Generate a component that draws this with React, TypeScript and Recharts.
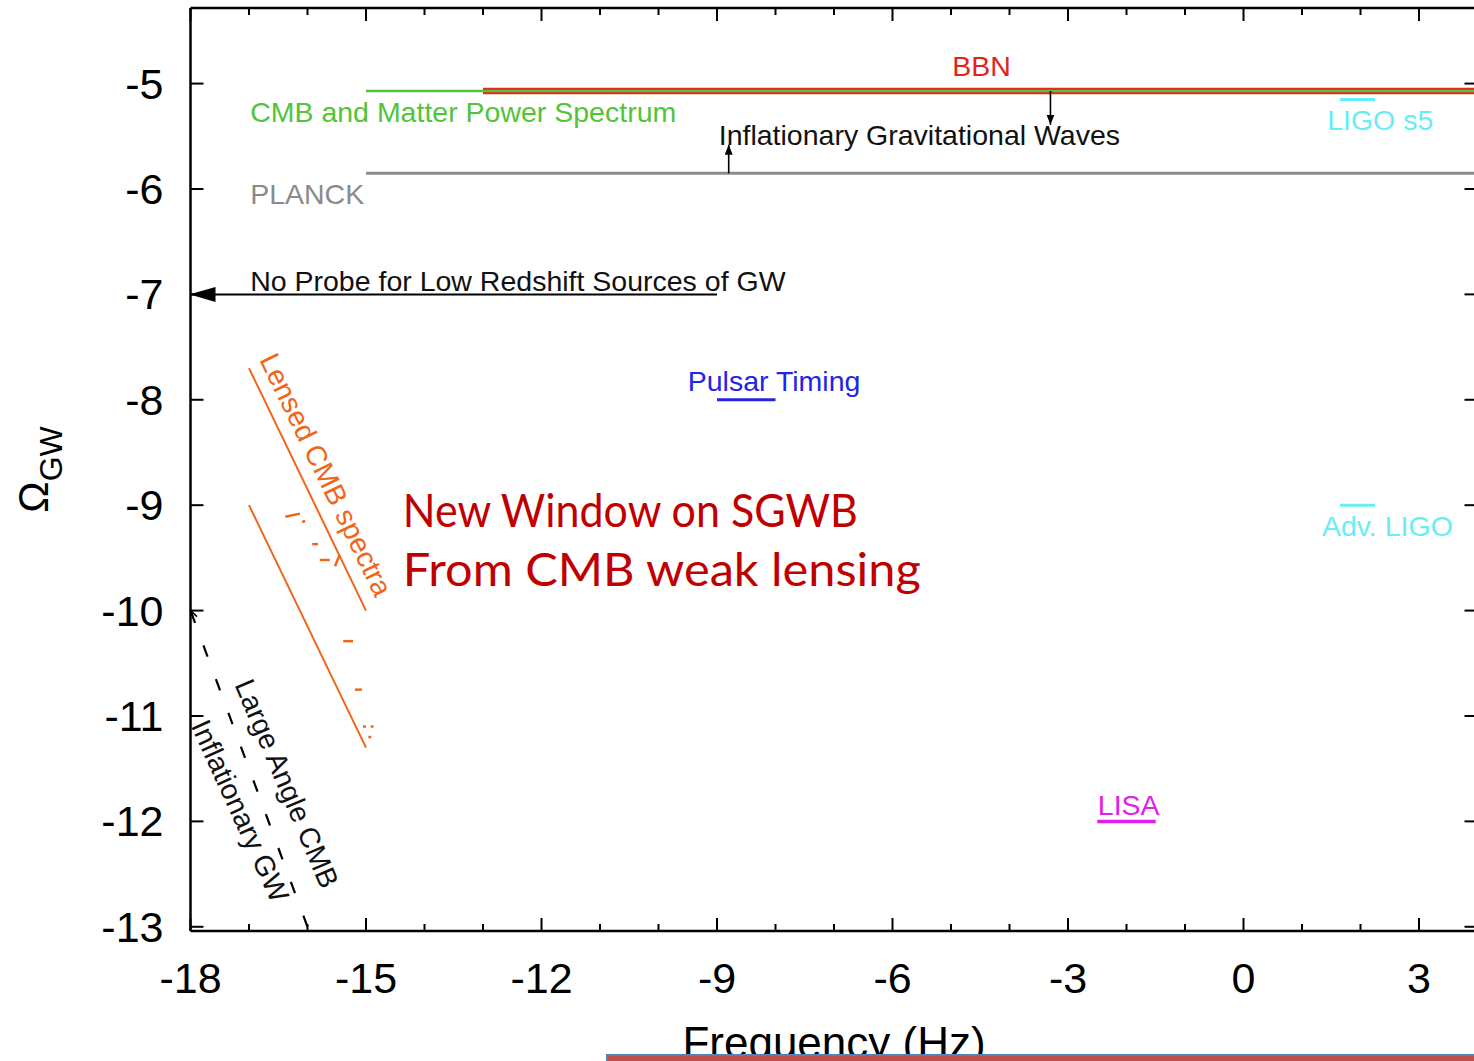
import React from 'react';
import { LineChart, Line, XAxis, YAxis, ReferenceDot } from 'recharts';

type Pt = { x: number; y: number };

// Axes: log10 frequency (Hz) and log10 Ω_GW
const xTicks = [-18, -17, -16, -15, -14, -13, -12, -11, -10, -9, -8, -7, -6, -5, -4, -3, -2, -1, 0, 1, 2, 3, 4];
const yTicks = [-13, -12, -11, -10, -9, -8, -7, -6, -5];
const xDomain: [number, number] = [-18, 4];
const yDomain: [number, number] = [-13.04, -4.283];

// Bounds and sensitivities
const bbn: Pt[] = [{ x: -13, y: -5.07 }, { x: 4, y: -5.07 }];
const cmbMatter: Pt[] = [{ x: -15, y: -5.07 }, { x: 4, y: -5.07 }];
const planck: Pt[] = [{ x: -15, y: -5.85 }, { x: 4, y: -5.85 }];
const igwDown: Pt[] = [{ x: -3.3, y: -5.07 }, { x: -3.3, y: -5.39 }];
const igwUp: Pt[] = [{ x: -8.8, y: -5.85 }, { x: -8.8, y: -5.58 }];
const noProbe: Pt[] = [{ x: -9, y: -7 }, { x: -18, y: -7 }];
const pulsar: Pt[] = [{ x: -9, y: -8 }, { x: -8, y: -8 }];
const ligoS5: Pt[] = [{ x: 1.65, y: -5.15 }, { x: 2.25, y: -5.15 }];
const advLigo: Pt[] = [{ x: 1.65, y: -9 }, { x: 2.25, y: -9 }];
const lisa: Pt[] = [{ x: -2.5, y: -12 }, { x: -1.5, y: -12 }];
const lensedUpper: Pt[] = [{ x: -17, y: -7.7 }, { x: -15, y: -10 }];
const lensedLower: Pt[] = [{ x: -17, y: -9 }, { x: -15, y: -11.3 }];
const largeAngle: Pt[] = [{ x: -16, y: -13 }, { x: -18, y: -10 }];
const lensedMarks: Pt[][] = [
  [{ x: -16.38, y: -9.11 }, { x: -16.13, y: -9.08 }],
  [{ x: -16.09, y: -9.16 }, { x: -16.04, y: -9.15 }],
  [{ x: -15.92, y: -9.37 }, { x: -15.82, y: -9.37 }],
  [{ x: -15.79, y: -9.52 }, { x: -15.62, y: -9.52 }],
  [{ x: -15.53, y: -9.58 }, { x: -15.45, y: -9.47 }],
  [{ x: -15.39, y: -10.29 }, { x: -15.22, y: -10.29 }],
  [{ x: -15.19, y: -10.75 }, { x: -15.07, y: -10.75 }],
  [{ x: -15.05, y: -11.1 }, { x: -15.0, y: -11.1 }],
  [{ x: -14.92, y: -11.1 }, { x: -14.87, y: -11.1 }],
  [{ x: -14.96, y: -11.2 }, { x: -14.91, y: -11.2 }],
];

type Note = {
  x: number;
  y: number;
  text: string;
  color: string;
  size: number;
  anchor?: 'start' | 'middle' | 'end';
  angle?: number;
  font?: string;
  span?: number;
};

const SANS = 'Liberation Sans, Arial, Helvetica, sans-serif';
const HUMANIST = 'Lato, Open Sans, sans-serif';

const notes: Note[] = [
  { x: -4.98, y: -4.924, text: 'BBN', color: '#e2231a', size: 28.5 },
  { x: -16.98, y: -5.36, text: 'CMB and Matter Power Spectrum', color: '#52c43a', size: 28.5 },
  { x: -16.98, y: -6.138, text: 'PLANCK', color: '#8a8a8a', size: 28.5 },
  { x: -8.97, y: -5.579, text: 'Inflationary Gravitational Waves', color: '#111', size: 28.5 },
  { x: -16.98, y: -6.964, text: 'No Probe for Low Redshift Sources of GW', color: '#111', size: 28.5 },
  { x: -9.5, y: -7.913, text: 'Pulsar Timing', color: '#2424e6', size: 28.5 },
  { x: 1.43, y: -5.436, text: 'LIGO s5', color: '#66eef6', size: 28.5 },
  { x: 1.34, y: -9.295, text: 'Adv. LIGO', color: '#66eef6', size: 28.5 },
  { x: -2.49, y: -11.935, text: 'LISA', color: '#e020e8', size: 28.5 },
  { x: -15.68, y: -8.71, text: 'Lensed CMB spectra', color: '#f0651a', size: 28.5, anchor: 'middle', angle: 64 },
  { x: -16.35, y: -11.64, text: 'Large Angle CMB', color: '#111', size: 28.5, anchor: 'middle', angle: 67 },
  { x: -17.15, y: -11.9, text: 'Inflationary GW', color: '#111', size: 28.5, anchor: 'middle', angle: 65.5 },
  { x: -14.37, y: -9.203, text: 'New Window on SGWB', color: '#c00000', size: 46, font: HUMANIST, span: 455 },
  { x: -14.37, y: -9.763, text: 'From CMB weak lensing', color: '#c00000', size: 46, font: HUMANIST, span: 518 },
];

const NoteShape = (note: Note) => (p: any) => {
  const { cx, cy } = p;
  const rotate = note.angle ? `rotate(${note.angle}, ${cx}, ${cy})` : undefined;
  return (
    <text
      x={cx}
      y={cy}
      transform={rotate}
      fill={note.color}
      fontSize={note.size}
      fontFamily={note.font || SANS}
      textAnchor={note.anchor || 'start'}
      dominantBaseline={note.angle ? 'central' : 'alphabetic'}
      textLength={note.span}
      lengthAdjust={note.span ? 'spacingAndGlyphs' : undefined}
    >
      {note.text}
    </text>
  );
};

const BottomTick = (p: any) => {
  const { x, y, payload } = p;
  const v = payload.value;
  const major = v % 3 === 0;
  return (
    <g>
      <line x1={x} y1={y} x2={x} y2={y - (major ? 13 : 7)} stroke="#000" strokeWidth={2} />
      {major && (
        <text x={x} y={y + 62} textAnchor="middle" fontSize={43} fontFamily={SANS} fill="#000">
          {String(v)}
        </text>
      )}
    </g>
  );
};

const TopTick = (p: any) => {
  const { x, y, payload } = p;
  const major = payload.value % 3 === 0;
  return <line x1={x} y1={y} x2={x} y2={y + (major ? 13 : 7)} stroke="#000" strokeWidth={2} />;
};

const LeftTick = (p: any) => {
  const { x, y, payload } = p;
  return (
    <g>
      <line x1={x} y1={y} x2={x + 13} y2={y} stroke="#000" strokeWidth={2} />
      <text x={x - 27} y={y + 15} textAnchor="end" fontSize={43} fontFamily={SANS} fill="#000">
        {String(payload.value)}
      </text>
    </g>
  );
};

const RightTick = (p: any) => {
  const { x, y } = p;
  return <line x1={x} y1={y} x2={x - 13} y2={y} stroke="#000" strokeWidth={2} />;
};

const YTitle = (p: any) => {
  const vb = p.viewBox || { x: 0, y: 8, width: 190, height: 923 };
  const cy = vb.y + vb.height / 2;
  const bx = 48;
  return (
    <text
      x={bx}
      y={cy}
      transform={`rotate(-90, ${bx}, ${cy})`}
      textAnchor="middle"
      fontFamily={SANS}
      fill="#000"
    >
      <tspan fontSize={42}>Ω</tspan>
      <tspan fontSize={32} dy={14}>GW</tspan>
    </text>
  );
};

const XTitle = (p: any) => {
  const vb = p.viewBox || { x: 190, y: 931, width: 1287, height: 130 };
  return (
    <text
      x={vb.x + vb.width / 2}
      y={vb.y + 127}
      textAnchor="middle"
      fontSize={44}
      fontFamily={SANS}
      fill="#000"
    >
      Frequency (Hz)
    </text>
  );
};

const seg = (key: string, data: Pt[], color: string, width: number, extra: any = {}) => (
  <Line
    key={key}
    data={data}
    dataKey="y"
    stroke={color}
    strokeWidth={width}
    dot={false}
    activeDot={false}
    isAnimationActive={false}
    legendType="none"
    {...extra}
  />
);

export default function App() {
  return (
    <div
      style={{
        position: 'absolute',
        left: 0,
        top: 0,
        width: 1474,
        height: 1061,
        overflow: 'hidden',
        background: '#fff',
      }}
    >
      <svg width={0} height={0} style={{ position: 'absolute' }}>
        <defs>
          <marker
            id="headBig"
            markerUnits="userSpaceOnUse"
            viewBox="0 0 26 16"
            markerWidth={26}
            markerHeight={16}
            refX={25}
            refY={8}
            orient="auto"
          >
            <path d="M0,0.5 L26,8 L0,15.5 z" fill="#000" />
          </marker>
          <marker
            id="headSmall"
            markerUnits="userSpaceOnUse"
            viewBox="0 0 10 8"
            markerWidth={10}
            markerHeight={8}
            refX={10}
            refY={4}
            orient="auto"
          >
            <path d="M0,0 L10,4 L0,8 z" fill="#000" />
          </marker>
          <marker
            id="headOpen"
            markerUnits="userSpaceOnUse"
            viewBox="0 0 10 10"
            markerWidth={10}
            markerHeight={10}
            refX={9}
            refY={5}
            orient="auto"
          >
            <path d="M1,1 L9,5 L1,9" fill="none" stroke="#000" strokeWidth={1.6} />
          </marker>
        </defs>
      </svg>

      <LineChart width={1500} height={1061} margin={{ top: 0, right: 0, bottom: 0, left: 0 }}>
        <XAxis
          xAxisId={0}
          type="number"
          dataKey="x"
          domain={xDomain}
          ticks={xTicks}
          interval={0}
          allowDataOverflow
          height={130}
          tickSize={0}
          tickMargin={0}
          tickLine={false}
          axisLine={{ stroke: '#000', strokeWidth: 2.5 }}
          tick={BottomTick}
          label={{ content: XTitle }}
        />
        <XAxis
          xAxisId="top"
          orientation="top"
          type="number"
          dataKey="x"
          domain={xDomain}
          ticks={xTicks}
          interval={0}
          allowDataOverflow
          height={8}
          tickSize={0}
          tickMargin={0}
          tickLine={false}
          axisLine={{ stroke: '#000', strokeWidth: 2.5 }}
          tick={TopTick}
        />
        <YAxis
          yAxisId={0}
          type="number"
          domain={yDomain}
          ticks={yTicks}
          interval={0}
          allowDataOverflow
          width={190.5}
          tickSize={0}
          tickMargin={0}
          tickLine={false}
          axisLine={{ stroke: '#000', strokeWidth: 2.5 }}
          tick={LeftTick}
          label={{ content: YTitle }}
        />
        <YAxis
          yAxisId="right"
          orientation="right"
          type="number"
          domain={yDomain}
          ticks={yTicks}
          interval={0}
          allowDataOverflow
          width={22.5}
          tickSize={0}
          tickMargin={0}
          tickLine={false}
          axisLine={{ stroke: '#000', strokeWidth: 2.5 }}
          tick={RightTick}
        />

        {seg('planck', planck, '#8c8c8c', 3)}
        {seg('bbn', bbn, '#e8261e', 6.5)}
        {seg('cmb', cmbMatter, '#52c43a', 2.5)}
        {seg('igwDown', igwDown, '#000', 1.6, { markerEnd: 'url(#headSmall)' })}
        {seg('igwUp', igwUp, '#000', 1.6, { markerEnd: 'url(#headSmall)' })}
        {seg('noProbe', noProbe, '#000', 2, { markerEnd: 'url(#headBig)' })}
        {seg('pulsar', pulsar, '#2424e6', 3)}
        {seg('ligoS5', ligoS5, '#66eef6', 3)}
        {seg('advLigo', advLigo, '#66eef6', 3)}
        {seg('lisa', lisa, '#e020e8', 3.5)}
        {seg('lensedUpper', lensedUpper, '#f0651a', 2)}
        {seg('lensedLower', lensedLower, '#f0651a', 2)}
        {lensedMarks.map((m, i) => seg(`mark${i}`, m, '#f0651a', 2.5))}
        {seg('largeAngle', largeAngle, '#000', 2.2, {
          strokeDasharray: '12 24',
          markerEnd: 'url(#headOpen)',
        })}

        {notes.map((n, i) => (
          <ReferenceDot key={`note${i}`} x={n.x} y={n.y} r={0} shape={NoteShape(n)} />
        ))}
      </LineChart>

      <div
        style={{
          position: 'absolute',
          left: 606,
          top: 1054,
          width: 1000,
          height: 30,
          background: '#c0504d',
          border: '2px solid #4f81bd',
          boxSizing: 'border-box',
        }}
      />
    </div>
  );
}
